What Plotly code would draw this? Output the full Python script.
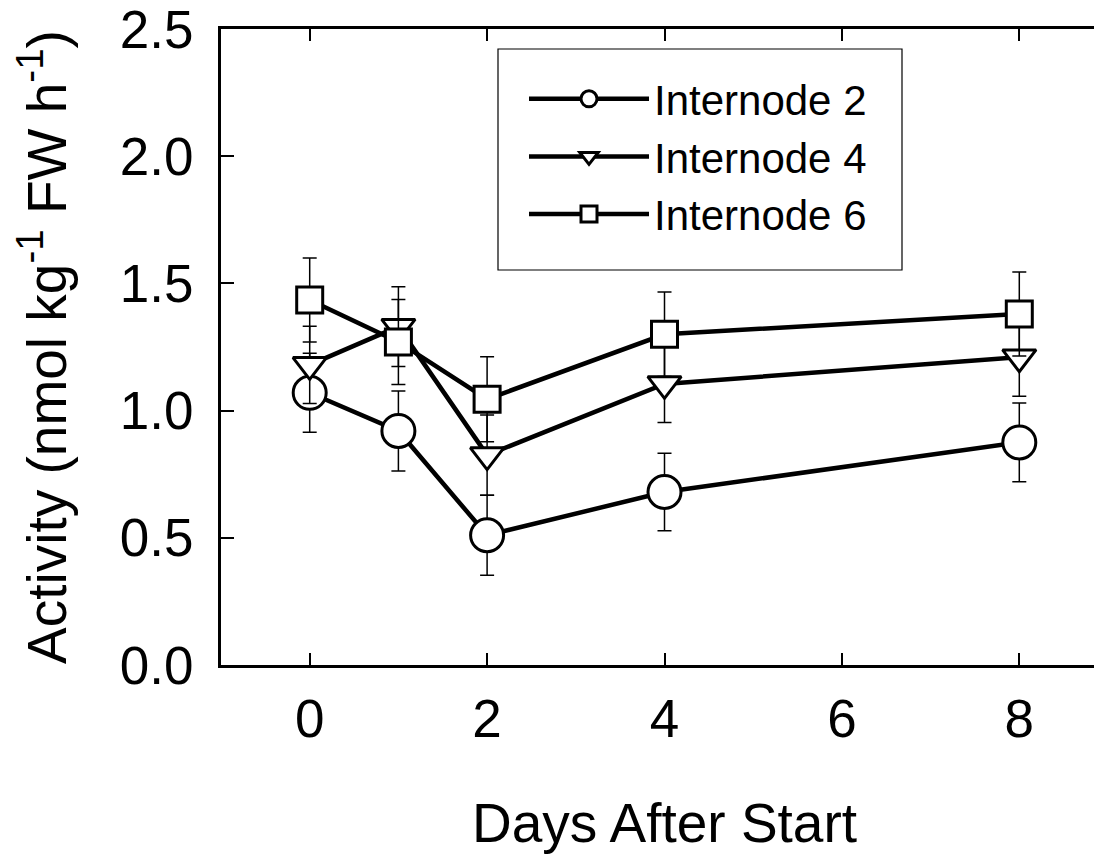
import plotly.graph_objects as go

days = [0, 1, 2, 4, 8]

internode2 = [1.07, 0.92, 0.51, 0.68, 0.875]
internode2_err = [0.155, 0.157, 0.157, 0.152, 0.155]

internode4 = [1.18, 1.33, 0.825, 1.105, 1.21]
internode4_err = [0.152, 0.157, 0.158, 0.152, 0.154]

internode6 = [1.435, 1.27, 1.045, 1.30, 1.38]
internode6_err = [0.165, 0.167, 0.167, 0.166, 0.165]

series_names = ["Internode 2", "Internode 4", "Internode 6"]
x_ticks = [0, 2, 4, 6, 8]
y_ticks = [0.0, 0.5, 1.0, 1.5, 2.0, 2.5]

FONT = "Liberation Sans, Arial, sans-serif"

# plot area in figure pixels
L, R, T, B = 213, 1100, 21, 657
W, H = 1102, 856

fig = go.Figure()

specs = [
    (internode2, internode2_err, "circle", 33),
    (internode4, internode4_err, "triangle-down", 29),
    (internode6, internode6_err, "square", 26),
]

for name, (vals, errs, sym, size) in zip(series_names, specs):
    fig.add_trace(go.Scatter(
        x=days, y=vals, name=name, mode="lines+markers",
        line=dict(color="black", width=4.5),
        marker=dict(symbol=sym, size=size, color="white",
                    line=dict(color="black", width=3)),
        error_y=dict(type="data", array=errs, visible=True,
                     color="black", thickness=1.5, width=7),
    ))

def px_x(v):
    return (v - L) / (R - L)

def px_y(v):
    return (B - v) / (B - T)

fig.update_layout(
    width=W, height=H,
    margin=dict(l=L, r=W - R, t=T, b=H - B, autoexpand=False),
    paper_bgcolor="white", plot_bgcolor="white",
    font=dict(family=FONT, color="black", size=53),
    showlegend=True,
    legend=dict(
        x=px_x(516), y=px_y(57), xanchor="left", yanchor="top",
        bgcolor="rgba(0,0,0,0)", borderwidth=0,
        font=dict(size=42, family=FONT),
        itemwidth=120,
    ),
    xaxis=dict(
        range=[-1, 9], tickvals=x_ticks, ticktext=[str(v) for v in x_ticks],
        showline=True, linewidth=3, linecolor="black", mirror="ticks",
        ticks="inside", ticklen=12, tickwidth=1.5, tickcolor="black",
        showgrid=False, zeroline=False, automargin=False,
        tickfont=dict(size=53),
        ticklabelstandoff=5,
        title=dict(text="Days After Start", font=dict(size=55), standoff=57),
    ),
    yaxis=dict(
        range=[0, 2.5], tickvals=y_ticks, ticktext=[f"{v:.1f}" for v in y_ticks],
        showline=True, linewidth=3, linecolor="black", mirror="ticks",
        ticks="inside", ticklen=13, tickwidth=1.5, tickcolor="black",
        showgrid=False, zeroline=False, automargin=False,
        tickfont=dict(size=53),
        ticklabelstandoff=14,
        ticklabeloverflow="allow",
        title=dict(text="Activity (nmol kg<sup>-1</sup> FW h<sup>-1</sup>)",
                   font=dict(size=55), standoff=46),
    ),
    shapes=[dict(type="rect", xref="paper", yref="paper",
                 x0=px_x(490), x1=px_x(894),
                 y0=px_y(262), y1=px_y(41),
                 line=dict(color="black", width=1.2), fillcolor="rgba(0,0,0,0)",
                 layer="above")],
)

fig.write_html("out.html")
